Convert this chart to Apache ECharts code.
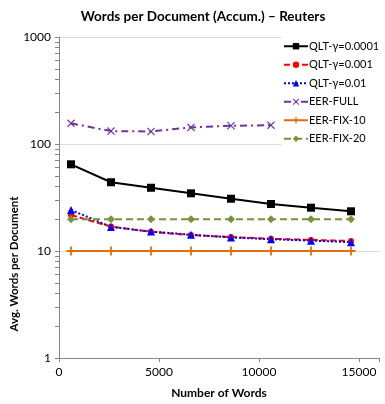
<!DOCTYPE html>
<html>
<head>
<meta charset="utf-8">
<script src="https://cdn.jsdelivr.net/npm/echarts@6/dist/echarts.min.js"></script>
<style>
  html, body { margin: 0; padding: 0; background: #fff; }
  #chart { width: 385px; height: 404px; }
</style>
</head>
<body>
<div id="chart"></div>
<script>
// x positions (number of words)
const xWords = [600, 2600, 4600, 6600, 8600, 10600, 12600, 14600];
// avg words per document
const qlt0001 = [64.6, 43.9, 39.0, 34.6, 30.8, 27.5, 25.4, 23.5];
const qlt001 = [21.7, 16.9, 15.1, 14.1, 13.5, 13.0, 12.7, 12.4];
const qlt01 = [24.2, 16.8, 15.2, 14.2, 13.4, 12.9, 12.5, 12.1];
const eerFull = [156, 132, 131, 143, 148, 150];
const eerFix10 = [10, 10, 10, 10, 10, 10, 10, 10];
const eerFix20 = [19.8, 19.8, 19.8, 19.8, 19.8, 19.8, 19.8, 19.8];
const seriesNames = ["QLT-γ=0.0001", "QLT-γ=0.001", "QLT-γ=0.01", "EER-FULL", "EER-FIX-10", "EER-FIX-20"];
// tick positions on the log axis (majors + minors)
const yTicks = [1, 2, 3, 4, 5, 6, 7, 8, 9, 10, 20, 30, 40, 50, 60, 70, 80, 90, 100,
  200, 300, 400, 500, 600, 700, 800, 900, 1000];

const FONT = "Lato";
const pairs = (vals) => vals.map((v, i) => [xWords[i], v]);

const xMark = "path://M0,1 L1,0 L5,4 L9,0 L10,1 L6,5 L10,9 L9,10 L5,6 L1,10 L0,9 L4,5 Z";
const plusMark = "path://M4,0 L6,0 L6,4 L10,4 L10,6 L6,6 L6,10 L4,10 L4,6 L0,6 L0,4 L4,4 Z";

const chart = echarts.init(document.getElementById("chart"));
const option = {
  animation: false,
  backgroundColor: "#fff",
  textStyle: { fontFamily: FONT },
  title: {
    text: "Words per Document (Accum.) – Reuters",
    left: 198,
    textAlign: "center",
    top: 5,
    textStyle: { fontFamily: FONT, fontSize: 13.5, fontWeight: "bold", color: "#000" },
  },
  grid: { left: 59, right: 6, top: 37, bottom: 44, containLabel: false },
  legend: {
    orient: "vertical",
    left: 281,
    top: 37,
    padding: [3, 6, 3, 2],
    itemWidth: 24,
    itemHeight: 8,
    itemGap: 6,
    backgroundColor: "#fff",
    textStyle: { fontFamily: FONT, fontSize: 11, color: "#000", lineHeight: 12.5, padding: [0, 0, 0, -4] },
    data: seriesNames,
  },
  xAxis: {
    type: "value",
    min: 0,
    max: 16000,
    interval: 5000,
    name: "Number of Words",
    nameLocation: "middle",
    nameGap: 29,
    nameTextStyle: { fontFamily: FONT, fontSize: 12, fontWeight: "bold", color: "#000" },
    axisLine: { lineStyle: { color: "#868686" } },
    axisTick: { show: true, length: 4, lineStyle: { color: "#868686" } },
    axisLabel: {
      fontSize: 12,
      color: "#000",
      margin: 8,
      formatter: (v) => (v > 15000 ? "" : String(v)),
    },
    splitLine: { show: false },
  },
  yAxis: [
    {
      type: "log",
      logBase: 10,
      min: 1,
      max: 1000,
      axisLine: { show: true, lineStyle: { color: "#868686" } },
      axisTick: { show: false },
      axisLabel: { fontSize: 12, color: "#000", margin: 8, formatter: (v) => String(v) },
      splitLine: { show: true, lineStyle: { color: "#D9D9D9" } },
    },
    {
      // same range in log10 space, only used to draw the log-spaced ticks
      type: "value",
      min: 0,
      max: 3,
      position: "left",
      axisLine: { show: false },
      axisTick: { show: true, length: 4, customValues: yTicks.map((v) => Math.log10(v)), lineStyle: { color: "#868686" } },
      axisLabel: { show: false },
      splitLine: { show: false },
    },
  ],
  graphic: [
    {
      type: "text",
      x: 14,
      y: 264,
      rotation: Math.PI / 2,
      style: {
        text: "Avg. Words per Document",
        fontFamily: FONT,
        fontSize: 11.5,
        fontWeight: "bold",
        fill: "#000",
        align: "center",
        verticalAlign: "middle",
      },
    },
  ],
  series: [
    {
      name: seriesNames[0],
      type: "line",
      data: pairs(qlt0001),
      color: "#000000",
      symbol: "rect",
      symbolSize: 8,
      lineStyle: { width: 2, type: "solid" },
    },
    {
      name: seriesNames[1],
      type: "line",
      data: pairs(qlt001),
      color: "#FF0000",
      symbol: "circle",
      symbolSize: 6,
      lineStyle: { width: 2, type: [6, 3] },
    },
    {
      name: seriesNames[2],
      type: "line",
      data: pairs(qlt01),
      color: "#0000FF",
      symbol: "triangle",
      symbolSize: 8,
      lineStyle: { width: 2, type: [2, 2] },
    },
    {
      name: seriesNames[3],
      type: "line",
      data: pairs(eerFull),
      color: "#7030A0",
      symbol: xMark,
      symbolSize: 8,
      lineStyle: { width: 2, type: [7, 4, 2, 4] },
    },
    {
      name: seriesNames[4],
      type: "line",
      data: pairs(eerFix10),
      color: "#E46C0A",
      symbol: plusMark,
      symbolSize: 9,
      lineStyle: { width: 2, type: "solid" },
    },
    {
      name: seriesNames[5],
      type: "line",
      data: pairs(eerFix20),
      color: "#77933C",
      symbol: "diamond",
      symbolSize: 8,
      lineStyle: { width: 2, type: [7, 4] },
    },
  ],
};
chart.setOption(option);
</script>
</body>
</html>
